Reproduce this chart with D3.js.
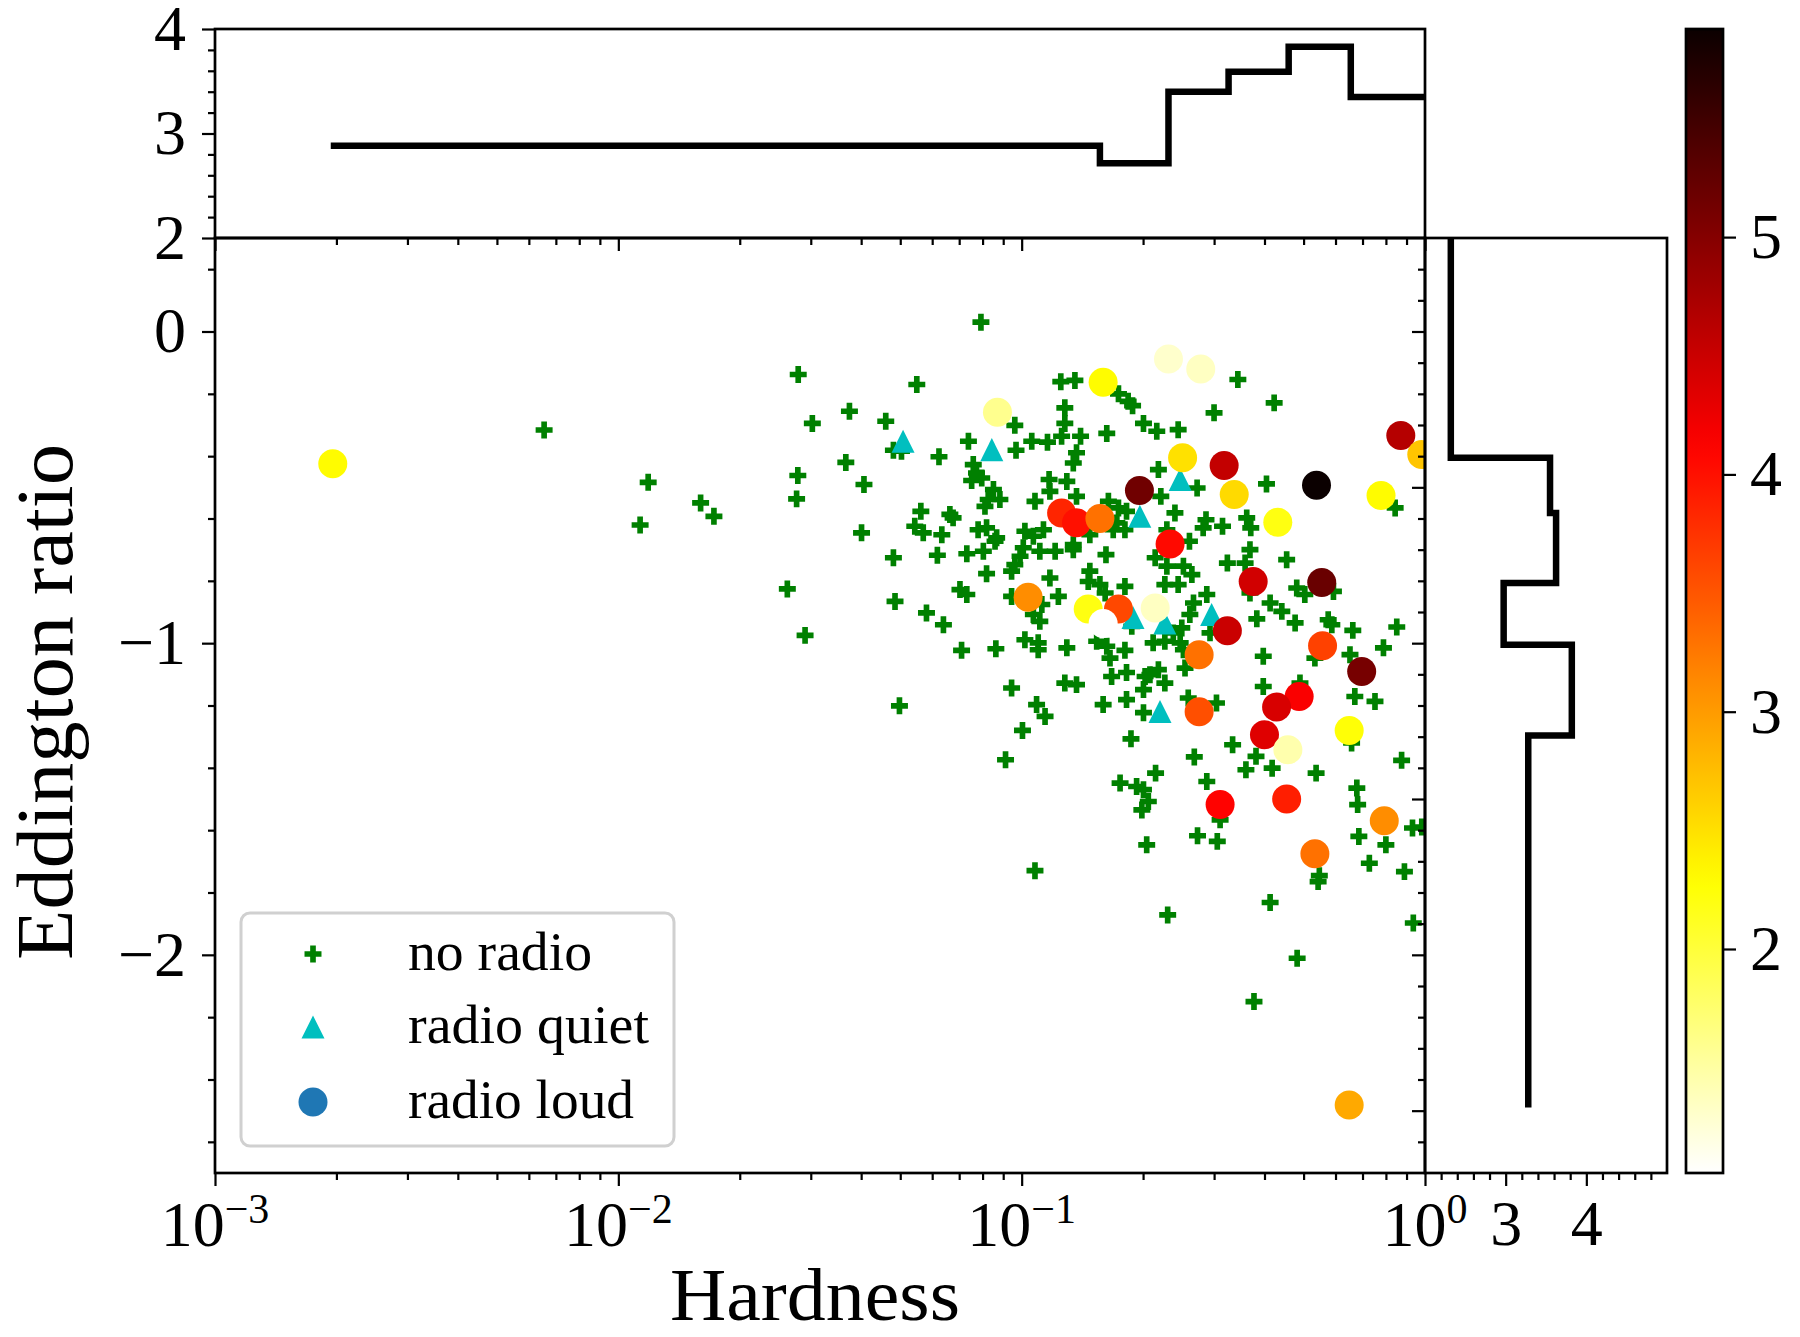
<!DOCTYPE html>
<html>
<head>
<meta charset="utf-8">
<script src="https://cdn.jsdelivr.net/npm/d3@7"></script>
<style>
  body { margin: 0; background: #fff; }
  svg text { font-family: "Liberation Serif", "DejaVu Serif", serif; fill: #000; }
</style>
</head>
<body>
<svg id="chart" width="1800" height="1337"></svg>
<script>
// ---- data (log10 hardness, log Eddington ratio) ----
var noRadio = [
  [-1.554,-0.138],[-1.519,-0.295],[-1.427,-0.256],[-1.436,-0.420],[-1.555,-0.462],[-1.558,-0.537],[-1.391,-0.491],[-1.397,-0.646],
  [-1.926,-0.484],[-1.946,-0.621],[-1.796,-0.550],[-1.763,-0.593],[-1.581,-0.826],[-1.537,-0.975],[-2.184,-0.316],
  [-1.101,0.030],[-1.260,-0.170],[-1.337,-0.288],[-0.903,-0.161],[-0.868,-0.157],[-0.760,-0.200],[-0.736,-0.224],[-0.725,-0.238],
  [-0.698,-0.295],[-0.893,-0.245],[-0.893,-0.295],[-1.017,-0.301],[-0.789,-0.327],[-0.854,-0.336],[-0.901,-0.336],[-0.975,-0.352],
  [-0.936,-0.355],[-1.132,-0.352],[-1.014,-0.381],[-1.318,-0.381],[-1.298,-0.384],[-1.205,-0.402],[-0.864,-0.389],[-0.872,-0.422],
  [-1.120,-0.427],[-1.112,-0.454],[-1.124,-0.478],[-1.099,-0.470],[-0.932,-0.475],[-0.888,-0.481],[-0.930,-0.513],[-1.070,-0.507],
  [-1.083,-0.539],[-1.054,-0.539],[-1.091,-0.561],[-0.864,-0.529],[-0.967,-0.545],[-0.785,-0.545],[-0.760,-0.566],[-0.740,-0.577],
  [-1.250,-0.577],[-1.178,-0.587],[-1.170,-0.598],[-1.265,-0.625],[-1.244,-0.646],[-1.198,-0.652],[-1.108,-0.636],[-1.087,-0.630],
  [-1.062,-0.662],[-1.066,-0.673],[-0.992,-0.641],[-0.971,-0.657],[-0.946,-0.636],[-0.773,-0.636],[-0.744,-0.636],[-0.764,-0.614],
  [-0.831,-0.652],[-0.872,-0.684],[-0.872,-0.700],[-1.318,-0.726],[-1.209,-0.718],[-1.136,-0.713],[-1.095,-0.705],[-0.996,-0.694],
  [-1.004,-0.721],[-0.955,-0.705],[-0.917,-0.705],[-0.791,-0.716],[-1.017,-0.748],[-1.025,-0.769],[-1.087,-0.777],[-0.831,-0.769],
  [-0.835,-0.802],[-0.806,-0.812],[-0.930,-0.791],[-1.153,-0.828],[-1.136,-0.844],[-0.744,-0.818],[-0.793,-0.839],[-1.025,-0.850],
  [-0.909,-0.850],[-1.314,-0.866],[-0.950,-0.876],[-1.236,-0.903],[-0.971,-0.908],[-0.955,-0.930],[-1.194,-0.941],[-0.727,-0.946],
  [-0.992,-0.989],[-0.959,-0.999],[-0.959,-1.021],[-0.888,-1.015],[-1.149,-1.023],[-1.064,-1.018],[-0.814,-0.994],[-0.789,-1.010],
  [-0.781,-1.048],[-0.744,-1.023],[-0.694,-1.107],[-0.777,-1.107],[-0.740,-1.094],[-0.893,-1.128],[-0.864,-1.133],[-1.025,-1.144],
  [-0.698,-1.149],[-0.963,-1.197],[-0.798,-1.197],[-0.740,-1.181],[-1.303,-1.201],[-0.698,-1.223],[-0.942,-1.235],
  [-0.464,-0.154],[-0.374,-0.229],[-0.523,-0.261],[-0.665,-0.320],[-0.612,-0.315],[-0.661,-0.443],[-0.565,-0.502],[-0.655,-0.529],
  [-0.393,-0.489],[-0.074,-0.566],[-0.620,-0.582],[-0.543,-0.604],[-0.550,-0.630],[-0.502,-0.625],[-0.442,-0.598],[-0.432,-0.630],
  [-0.640,-0.636],[-0.584,-0.673],[-0.434,-0.700],[-0.446,-0.743],[-0.490,-0.743],[-0.343,-0.732],[-0.669,-0.726],[-0.640,-0.753],
  [-0.599,-0.753],[-0.578,-0.780],[-0.645,-0.812],[-0.612,-0.812],[-0.541,-0.844],[-0.318,-0.823],[-0.298,-0.844],[-0.227,-0.834],
  [-0.434,-0.839],[-0.384,-0.871],[-0.355,-0.898],[-0.574,-0.871],[-0.583,-0.908],[-0.417,-0.922],[-0.322,-0.935],[-0.240,-0.925],
  [-0.231,-0.941],[-0.179,-0.959],[-0.070,-0.948],[-0.603,-0.951],[-0.624,-0.967],[-0.674,-0.999],[-0.645,-0.994],[-0.607,-0.999],
  [-0.599,-1.021],[-0.533,-0.967],[-0.103,-1.015],[-0.401,-1.042],[-0.186,-1.037],[-0.273,-1.048],[-0.595,-1.080],[-0.682,-1.101],
  [-0.661,-1.085],[-0.645,-1.128],[-0.401,-1.139],[-0.174,-1.171],[-0.124,-1.187],[-0.587,-1.176],[-0.517,-1.192],[-0.310,-1.128],
  [-0.477,-1.326],[-0.572,-1.365],[-0.419,-1.363],[-0.444,-1.406],[-0.379,-1.401],[-0.270,-1.417],[-0.182,-1.320],[-0.058,-1.376],
  [-0.668,-1.417],[-0.541,-1.444],[-0.698,-1.470],[-0.686,-1.508],[-0.702,-1.535],[-0.715,-1.460],[-0.169,-1.465],[-0.167,-1.518],
  [-0.508,-1.567],[-0.690,-1.647],[-0.564,-1.618],[-0.515,-1.636],[-0.164,-1.620],[-0.097,-1.647],[-0.031,-1.593],[-0.008,-1.590],
  [-0.138,-1.706],[-0.051,-1.733],[-0.262,-1.746],[-0.265,-1.765],[-0.384,-1.832],[-0.638,-1.872],[-0.029,-1.898],[-0.317,-2.011],
  [-0.424,-2.150],[-0.998,-1.280],[-1.040,-1.374],[-0.729,-1.307],[-0.756,-1.449],[-0.967,-1.730]
];

var quietLogH = [-1.294, -1.074, -0.707, -0.724, -0.607, -0.645, -0.529, -0.657];
var quietEdd  = [-0.352, -0.379, -0.593, -0.918, -0.475, -0.935, -0.908, -1.219];

var loudLogH = [-2.708,-1.060,-0.798,-0.901,-0.864,-0.806,-0.708,-0.984,-0.835,-0.760,-0.798,-0.669,-0.636,-0.556,-0.060,-0.008,
                -0.601,-0.498,-0.473,-0.269,-0.109,-0.365,-0.632,-0.426,-0.256,-0.490,-0.254,-0.560,-0.157,-0.312,-0.368,-0.560,
                -0.398,-0.340,-0.188,-0.508,-0.343,-0.101,-0.273,-0.188];
var loudEdd  = [-0.424,-0.259,-0.163,-0.582,-0.614,-0.600,-0.510,-0.853,-0.890,-0.890,-0.937,-0.887,-0.088,-0.120,-0.334,-0.395,
                -0.405,-0.430,-0.523,-0.493,-0.526,-0.612,-0.682,-0.802,-0.805,-0.960,-1.008,-1.037,-1.091,-1.171,-1.205,-1.220,
                -1.294,-1.342,-1.280,-1.518,-1.500,-1.570,-1.676,-2.482];
var loudC    = [2.3,1.6,2.3,3.85,4.0,3.3,5.15,3.1,2.2,3.6,1.056,1.35,1.3,1.35,4.65,2.7,
                2.5,4.55,2.55,5.877,2.3,2.2,4.05,4.45,5.2,4.5,3.65,3.3,5.1,4.15,4.4,3.55,
                4.35,1.45,2.25,4.1,3.9,3.1,3.3,2.9];

// binned means shown in the marginal panels
var hardEdges = [-2.713, -0.806, -0.636, -0.487, -0.338, -0.184, 0.02];
var hardMean  = [2.883, 2.715, 3.40, 3.59, 3.83, 3.35];
var eddEdges  = [0.35, -0.405, -0.582, -0.807, -1.005, -1.296, -2.490];
var eddMean   = [2.32, 3.55, 3.625, 2.975, 3.82, 3.28];

var xMajor = [1e-3, 1e-2, 1e-1, 1];
var xExp = ["\u22123", "\u22122", "\u22121", "0"];
var legendLabels = ["no radio", "radio quiet", "radio loud"];

// ---- layout ----
var L = 215, R = 1425, T = 238, B = 1173;
var topT = 29, sideR = 1667, cbL = 1686, cbR = 1723;

var svg = d3.select('#chart');

var x = d3.scaleLog().domain([1e-3, 1]).range([L, R]);
var y = d3.scaleLinear().domain([-2.70, 0.30]).range([B, T]);
var yTop = d3.scaleLinear().domain([2, 4]).range([T, topT]);
var xSide = d3.scaleLinear().domain([2, 5]).range([R, sideR]);
var cExt = d3.extent(loudC);
var span = cExt[1] - cExt[0];
// matplotlib hot_r
var color = d3.scaleLinear()
  .domain([cExt[1], cExt[1] - 0.365079 * span, cExt[1] - 0.746032 * span, cExt[0]])
  .range(["#0b0000", "#ff0000", "#ffff00", "#ffffff"])
  .interpolate(d3.interpolateRgb);
var yCb = d3.scaleLinear().domain(cExt).range([B, topT]);

var minorLog = [];
[-3, -2, -1].forEach(function(k) {
  for (var m = 2; m <= 9; m++) minorLog.push(m * Math.pow(10, k));
});

var defs = svg.append('defs');
defs.append('clipPath').attr('id', 'clipMain')
  .append('rect').attr('x', L).attr('y', T).attr('width', R - L).attr('height', B - T);
defs.append('clipPath').attr('id', 'clipTop')
  .append('rect').attr('x', L).attr('y', topT).attr('width', R - L).attr('height', T - topT);
defs.append('clipPath').attr('id', 'clipSide')
  .append('rect').attr('x', R).attr('y', T).attr('width', sideR - R).attr('height', B - T);

// ---- scatter ----
var pts = svg.append('g').attr('clip-path', 'url(#clipMain)');

pts.append('g').selectAll('path')
  .data(noRadio)
  .enter().append('path')
    .attr('d', d3.symbol(d3.symbolCross, 160))
    .attr('transform', function(d) { return 'translate(' + x(Math.pow(10, d[0])) + ',' + y(d[1]) + ')'; })
    .attr('fill', '#008000');

var triUp = { draw: function(ctx, size) {
  var h = Math.sqrt(size) / 2;
  ctx.moveTo(0, -h); ctx.lineTo(h, h); ctx.lineTo(-h, h); ctx.closePath();
}};

pts.append('g').selectAll('path')
  .data(quietLogH)
  .enter().append('path')
    .attr('d', d3.symbol(triUp, 530))
    .attr('transform', function(d, i) { return 'translate(' + x(Math.pow(10, d)) + ',' + y(quietEdd[i]) + ')'; })
    .attr('fill', '#00bfbf');

pts.append('g').selectAll('circle')
  .data(loudLogH)
  .enter().append('circle')
    .attr('cx', function(d) { return x(Math.pow(10, d)); })
    .attr('cy', function(d, i) { return y(loudEdd[i]); })
    .attr('r', 14.5)
    .attr('fill', function(d, i) { return color(loudC[i]); });

// ---- marginal step lines ----
var topPts = hardMean.map(function(v, i) { return [hardEdges[i], v]; });
topPts.push([hardEdges[hardEdges.length - 1], hardMean[hardMean.length - 1]]);
svg.append('path')
  .datum(topPts)
  .attr('clip-path', 'url(#clipTop)')
  .attr('fill', 'none').attr('stroke', '#000').attr('stroke-width', 6.5)
  .attr('d', d3.line()
    .x(function(d) { return x(Math.pow(10, d[0])); })
    .y(function(d) { return yTop(d[1]); })
    .curve(d3.curveStepAfter));

var sidePts = eddMean.map(function(v, i) { return [v, eddEdges[i]]; });
sidePts.push([eddMean[eddMean.length - 1], eddEdges[eddEdges.length - 1]]);
svg.append('path')
  .datum(sidePts)
  .attr('clip-path', 'url(#clipSide)')
  .attr('fill', 'none').attr('stroke', '#000').attr('stroke-width', 6.5)
  .attr('d', d3.line()
    .x(function(d) { return xSide(d[0]); })
    .y(function(d) { return y(d[1]); })
    .curve(d3.curveStepBefore));

// ---- colorbar ----
var grad = defs.append('linearGradient').attr('id', 'cbGrad')
  .attr('x1', 0).attr('y1', 1).attr('x2', 0).attr('y2', 0);
d3.range(0, 41).forEach(function(i) {
  var c = cExt[0] + span * i / 40;
  grad.append('stop').attr('offset', (i / 40 * 100) + '%').attr('stop-color', color(c));
});
svg.append('rect').attr('x', cbL).attr('y', topT).attr('width', cbR - cbL).attr('height', B - topT)
  .attr('fill', 'url(#cbGrad)').attr('stroke', '#000').attr('stroke-width', 2.7);

// ---- axes ----
function styleAxis(g, size) {
  g.select('.domain').remove();
  g.selectAll('line').attr('stroke', '#000').attr('stroke-width', 2.2);
  g.attr('font-family', '"Liberation Serif", serif').attr('font-size', size || 64);
}

// main x
svg.append('g').attr('transform', 'translate(0,' + B + ')')
  .call(d3.axisBottom(x).tickValues(xMajor).tickSize(13).tickFormat(''))
  .call(styleAxis);
svg.append('g').attr('transform', 'translate(0,' + B + ')')
  .call(d3.axisBottom(x).tickValues(minorLog).tickSize(7).tickFormat(''))
  .call(styleAxis);
var xl = svg.append('g').selectAll('text').data(xMajor).enter().append('text')
  .attr('x', function(d) { return x(d); })
  .attr('y', 1246)
  .attr('text-anchor', 'middle')
  .attr('font-size', 64);
xl.append('tspan').text('10');
xl.append('tspan').attr('dy', -23).attr('font-size', 42).text(function(d, i) { return xExp[i]; });

// main y
svg.append('g').attr('transform', 'translate(' + L + ',0)')
  .call(d3.axisLeft(y).tickValues([0, -1, -2]).tickSize(13).tickPadding(16).tickFormat(d3.format('d')))
  .call(styleAxis);
svg.append('g').attr('transform', 'translate(' + L + ',0)')
  .call(d3.axisLeft(y).tickValues(d3.range(-26, 3, 2).map(function(v) { return v / 10; })
    .filter(function(v) { return Math.abs(v - Math.round(v)) > 1e-6; })).tickSize(7).tickFormat(''))
  .call(styleAxis);

// top panel y
svg.append('g').attr('transform', 'translate(' + L + ',0)')
  .call(d3.axisLeft(yTop).tickValues([2, 3, 4]).tickSize(13).tickPadding(16).tickFormat(d3.format('d')))
  .call(styleAxis);
svg.append('g').attr('transform', 'translate(' + L + ',0)')
  .call(d3.axisLeft(yTop).tickValues([2.2, 2.4, 2.6, 2.8, 3.2, 3.4, 3.6, 3.8]).tickSize(7).tickFormat(''))
  .call(styleAxis);
// top panel x ticks (no labels)
svg.append('g').attr('transform', 'translate(0,' + T + ')')
  .call(d3.axisBottom(x).tickValues(xMajor).tickSize(13).tickFormat(''))
  .call(styleAxis);
svg.append('g').attr('transform', 'translate(0,' + T + ')')
  .call(d3.axisBottom(x).tickValues(minorLog).tickSize(7).tickFormat(''))
  .call(styleAxis);

// side panel
svg.append('g').attr('transform', 'translate(0,' + B + ')')
  .call(d3.axisBottom(xSide).tickValues([3, 4]).tickSize(13).tickPadding(14).tickFormat(d3.format('d')))
  .call(styleAxis);
svg.append('g').attr('transform', 'translate(0,' + B + ')')
  .call(d3.axisBottom(xSide).tickValues([2.2, 2.4, 2.6, 2.8, 3.2, 3.4, 3.6, 3.8, 4.2, 4.4, 4.6, 4.8]).tickSize(7).tickFormat(''))
  .call(styleAxis);
svg.append('g').attr('transform', 'translate(' + R + ',0)')
  .call(d3.axisLeft(y).tickValues([0, -0.5, -1, -1.5, -2, -2.5]).tickSize(13).tickFormat(''))
  .call(styleAxis);
svg.append('g').attr('transform', 'translate(' + R + ',0)')
  .call(d3.axisLeft(y).tickValues(d3.range(-26, 3).map(function(v) { return v / 10; })
    .filter(function(v) { return Math.abs(v * 2 - Math.round(v * 2)) > 1e-6; })).tickSize(7).tickFormat(''))
  .call(styleAxis);

// colorbar axis
svg.append('g').attr('transform', 'translate(' + cbR + ',0)')
  .call(d3.axisRight(yCb).tickValues([2, 3, 4, 5]).tickSize(13).tickPadding(14).tickFormat(d3.format('d')))
  .call(styleAxis);

// spines
var spines = svg.append('g').attr('fill', 'none').attr('stroke', '#000').attr('stroke-width', 2.7);
spines.append('rect').attr('x', L).attr('y', T).attr('width', R - L).attr('height', B - T);
spines.append('rect').attr('x', L).attr('y', topT).attr('width', R - L).attr('height', T - topT);
spines.append('rect').attr('x', R).attr('y', T).attr('width', sideR - R).attr('height', B - T);

// axis labels
svg.append('text')
  .attr('x', (L + R) / 2 - 5).attr('y', 1320)
  .attr('text-anchor', 'middle')
  .attr('font-size', 74)
  .attr('textLength', 290).attr('lengthAdjust', 'spacingAndGlyphs')
  .text('Hardness');
svg.append('text')
  .attr('transform', 'translate(72,702) rotate(-90)')
  .attr('text-anchor', 'middle')
  .attr('font-size', 80)
  .attr('textLength', 516).attr('lengthAdjust', 'spacingAndGlyphs')
  .text('Eddington ratio');

// ---- legend ----
var leg = svg.append('g');
leg.append('rect').attr('x', 241).attr('y', 913).attr('width', 433).attr('height', 233)
  .attr('rx', 9).attr('fill', '#fff').attr('fill-opacity', 0.8)
  .attr('stroke', '#d0d0d0').attr('stroke-width', 3);
var legY = [954, 1027, 1102];
leg.append('path').attr('d', d3.symbol(d3.symbolCross, 160)).attr('fill', '#008000')
  .attr('transform', 'translate(313,' + legY[0] + ')');
leg.append('path').attr('d', d3.symbol(triUp, 530)).attr('fill', '#00bfbf')
  .attr('transform', 'translate(313,' + legY[1] + ')');
leg.append('circle').attr('cx', 313).attr('cy', legY[2]).attr('r', 14.5).attr('fill', '#1f77b4');
var legW = [184, 241, 226];
leg.selectAll('text.lab').data(legendLabels).enter().append('text')
  .attr('class', 'lab')
  .attr('x', 408)
  .attr('y', function(d, i) { return legY[i] + 16; })
  .attr('font-size', 55)
  .attr('textLength', function(d, i) { return legW[i]; })
  .attr('lengthAdjust', 'spacingAndGlyphs')
  .text(function(d) { return d; });
</script>
</body>
</html>
